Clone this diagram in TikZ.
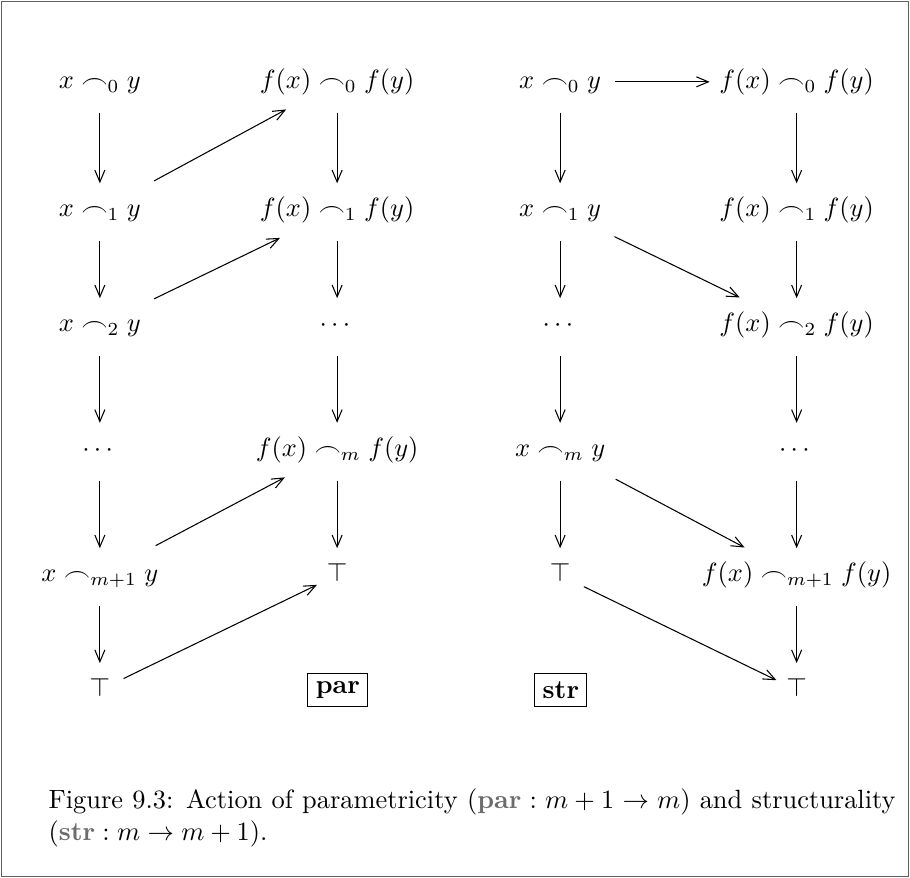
\documentclass[tikz,border=0pt]{standalone}
\usepackage{amsmath}
\usepackage{amssymb}
\usetikzlibrary{arrows.meta}

\tikzset{
  term/.style={inner sep=5pt, inner xsep=4pt, text height=8pt, text depth=3pt},
  mor/.style={-{Straight Barb[length=4.5pt,width=3.8pt]}, shorten <=1pt, shorten >=-0.5pt},
  tag/.style={draw, inner sep=3pt, font=\bfseries}
}

\begin{document}
\begin{tikzpicture}
  \useasboundingbox (0,0) rectangle (12.12,-11.69);
  \draw[gray!75!black] (0.02,-0.02) rectangle (12.10,-11.67);
  % parametricity
  \node[term] (a0) at (1.33,-1.09) {$x \frown_0 y$};
  \node[term] (a1) at (1.33,-2.80) {$x \frown_1 y$};
  \node[term] (a2) at (1.33,-4.33) {$x \frown_2 y$};
  \node[term] (a3) at (1.33,-5.99) {$\cdots$};
  \node[term] (a4) at (1.33,-7.66) {$x \frown_{m+1} y$};
  \node[term] (a5) at (1.33,-9.19) {$\top$};
  \node[term] (b0) at (4.49,-1.09) {$f(x) \frown_0 f(y)$};
  \node[term] (b1) at (4.49,-2.80) {$f(x) \frown_1 f(y)$};
  \node[term] (b2) at (4.49,-4.33) {$\cdots$};
  \node[term] (b3) at (4.49,-5.99) {$f(x) \frown_m f(y)$};
  \node[term] (b4) at (4.49,-7.66) {$\top$};
  \node[tag] (par) at (4.50,-9.19) {par};
  \draw (a0) edge[mor] (a1) (a1) edge[mor] (a2) (a2) edge[mor] (a3)
        (a3) edge[mor] (a4) (a4) edge[mor] (a5);
  \draw (b0) edge[mor] (b1) (b1) edge[mor] (b2) (b2) edge[mor] (b3)
        (b3) edge[mor] (b4);
  \draw (a1) edge[mor] (b0) (a2) edge[mor] (b1) (a4) edge[mor] (b3)
        (a5) edge[mor] (b4);
  % structurality
  \node[term] (c0) at (7.46,-1.09) {$x \frown_0 y$};
  \node[term] (c1) at (7.46,-2.80) {$x \frown_1 y$};
  \node[term] (c2) at (7.46,-4.33) {$\cdots$};
  \node[term] (c3) at (7.46,-5.99) {$x \frown_m y$};
  \node[term] (c4) at (7.46,-7.66) {$\top$};
  \node[tag] (str) at (7.47,-9.19) {str};
  \node[term] (d0) at (10.61,-1.09) {$f(x) \frown_0 f(y)$};
  \node[term] (d1) at (10.61,-2.80) {$f(x) \frown_1 f(y)$};
  \node[term] (d2) at (10.61,-4.33) {$f(x) \frown_2 f(y)$};
  \node[term] (d3) at (10.61,-5.99) {$\cdots$};
  \node[term] (d4) at (10.61,-7.66) {$f(x) \frown_{m+1} f(y)$};
  \node[term] (d5) at (10.61,-9.19) {$\top$};
  \draw (c0) edge[mor] (c1) (c1) edge[mor] (c2) (c2) edge[mor] (c3)
        (c3) edge[mor] (c4);
  \draw (d0) edge[mor] (d1) (d1) edge[mor] (d2) (d2) edge[mor] (d3)
        (d3) edge[mor] (d4) (d4) edge[mor] (d5);
  \draw (c0) edge[mor] (d0) (c1) edge[mor] (d2) (c3) edge[mor] (d4)
        (c4) edge[mor] (d5);
  % caption
  \node[anchor=base west, text width=321pt, align=justify, inner sep=0pt] (cap) at (0.64,-10.77)
    {Figure 9.3: Action of parametricity ($\textcolor{gray!85!black}{\textbf{par}} : m+1 \to m$) and structurality ($\textcolor{gray!85!black}{\textbf{str}} : m \to m+1$).};
\end{tikzpicture}
\end{document}
